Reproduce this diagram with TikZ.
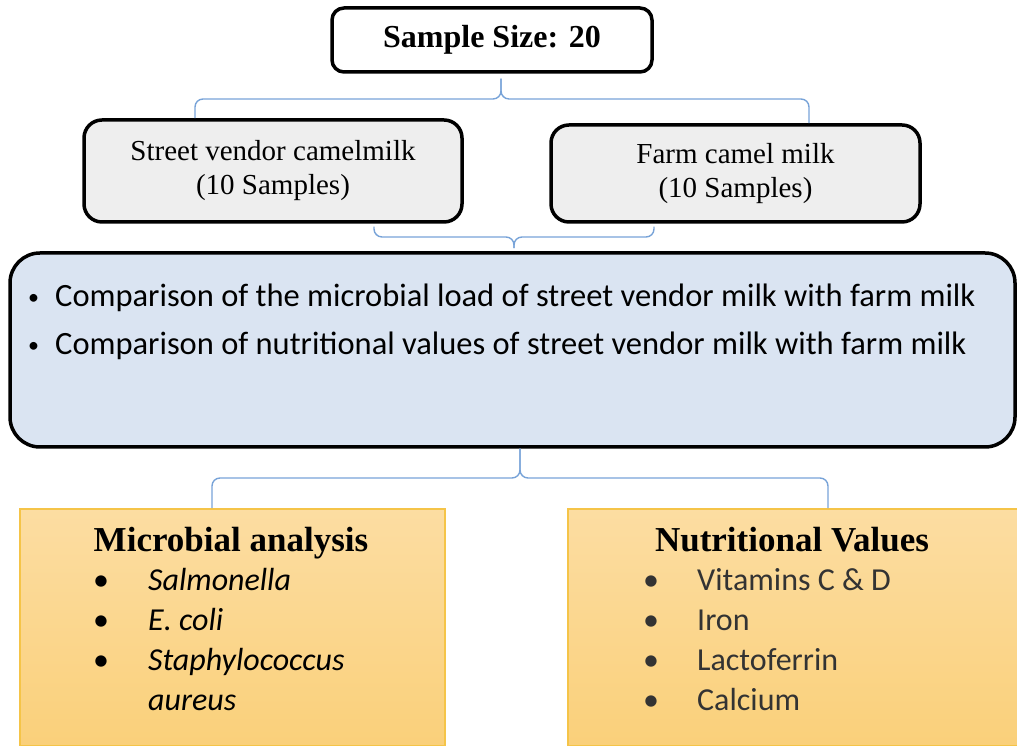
\documentclass[tikz,border=0pt]{standalone}
\usepackage{fontspec}
\setmainfont{Liberation Serif}
\newfontfamily\calfont{Carlito}
\usetikzlibrary{positioning, calc}
\definecolor{bracecol}{HTML}{78A3D8}
\definecolor{greyfill}{HTML}{EEEEEE}
\definecolor{bluefill}{HTML}{DAE4F2}
\definecolor{orangetop}{HTML}{FCDDA2}
\definecolor{orangebot}{HTML}{FAD07A}
\definecolor{orangeline}{HTML}{F5C448}

\begin{document}
\begin{tikzpicture}[x=1pt, y=1pt,
  box/.style={draw=black, line width=3.5pt, rounded corners=#1, inner sep=0pt, align=center},
  panel/.style={draw=orangeline, line width=1.5pt, top color=orangetop, bottom color=orangebot, inner sep=0pt},
  brace/.style={draw=bracecol, line width=1.4pt, rounded corners=8pt},
  head/.style={font=\fontsize{35}{40}\selectfont\bfseries, inner sep=0pt, anchor=base},
  item/.style={font=\calfont\fontsize{32}{38}\selectfont, inner sep=0pt, anchor=base west},
  point/.style={font=\calfont\fontsize{32.5}{38}\selectfont, inner sep=0pt, anchor=base west}]
\useasboundingbox (0,0) rectangle (1017,746);

% boxes
\node[box=12pt, fill=white, minimum width=320, minimum height=64,
  font=\fontsize{32}{38}\selectfont\bfseries] (size) at (492,706) {Sample Size: 20};
\node[box=18pt, fill=greyfill, minimum width=378, minimum height=102,
  font=\fontsize{29}{34}\selectfont] (street) at (273,575) {Street vendor camelmilk\\(10 Samples)};
\node[box=18pt, fill=greyfill, minimum width=369, minimum height=97,
  font=\fontsize{29}{34}\selectfont] (farm) at (735.5,572.5) {Farm camel milk\\(10 Samples)};
\node[box=30pt, fill=bluefill, minimum width=1005, minimum height=194] (cmp) at (512.5,396) {};
\node[panel, minimum width=425, minimum height=237] (micro) at (232.5,118.5) {};
\node[panel, minimum width=450, minimum height=237] (nutri) at (793,118.5) {};

% comparison text
\node[point] (cmpA) at (28,439) {\makebox[27pt][l]{\raisebox{2pt}{\fontsize{22}{22}\selectfont•}}Comparison of the microbial load of street vendor milk with farm milk};
\node[point] (cmpB) at (28,391) {\makebox[27pt][l]{\raisebox{2pt}{\fontsize{22}{22}\selectfont•}}Comparison of nutritional values of street vendor milk with farm milk};

% microbial analysis
\node[head] (mhead) at (231,194) {Microbial analysis};
\node[item] (m1) at (93,155) {\makebox[55pt][l]{•}\textit{Salmonella}};
\node[item] (m2) at (93,115) {\makebox[55pt][l]{•}\textit{E. coli}};
\node[item] (m3) at (93,75) {\makebox[55pt][l]{•}\textit{Staphylococcus}};
\node[item] (m4) at (148,35) {\textit{aureus}};

% nutritional values
\node[head] (nhead) at (792,194) {Nutritional Values};
\node[item, text=black!80] (n1) at (643,155) {\makebox[54pt][l]{•}Vitamins C \& D};
\node[item, text=black!80] (n2) at (643,115) {\makebox[54pt][l]{•}Iron};
\node[item, text=black!80] (n3) at (643,75) {\makebox[54pt][l]{•}Lactoferrin};
\node[item, text=black!80] (n4) at (643,35) {\makebox[54pt][l]{•}Calcium};

% braces
\coordinate (a0) at (0,647);
\coordinate (a1) at ([xshift=-78pt]street.north);
\coordinate (a2) at ([xshift=9pt,yshift=-5pt]size.south);
\coordinate (a3) at ([xshift=73.5pt]farm.north);
\draw[brace] (a1) -- (a1 |- a0) -- (a2 |- a0) -- (a2);
\draw[brace] (a3) -- (a3 |- a0) -- (a2 |- a0) -- (a2);

\coordinate (b0) at (0,509);
\coordinate (b1) at ([xshift=101pt,yshift=-3pt]street.south);
\coordinate (b2) at ([xshift=1.5pt,yshift=3pt]cmp.north);
\coordinate (b3) at ([xshift=-81.5pt,yshift=-3pt]farm.south);
\draw[brace] (b1) -- (b1 |- b0) -- (b2 |- b0) -- (b2);
\draw[brace] (b3) -- (b3 |- b0) -- (b2 |- b0) -- (b2);

\coordinate (c0) at (0,268);
\coordinate (c1) at ([xshift=-20.5pt]micro.north);
\coordinate (c2) at ([xshift=7.5pt]cmp.south);
\coordinate (c3) at ([xshift=35pt]nutri.north);
\draw[brace] (c1) -- (c1 |- c0) -- (c2 |- c0) -- (c2);
\draw[brace] (c3) -- (c3 |- c0) -- (c2 |- c0) -- (c2);
\end{tikzpicture}
\end{document}
